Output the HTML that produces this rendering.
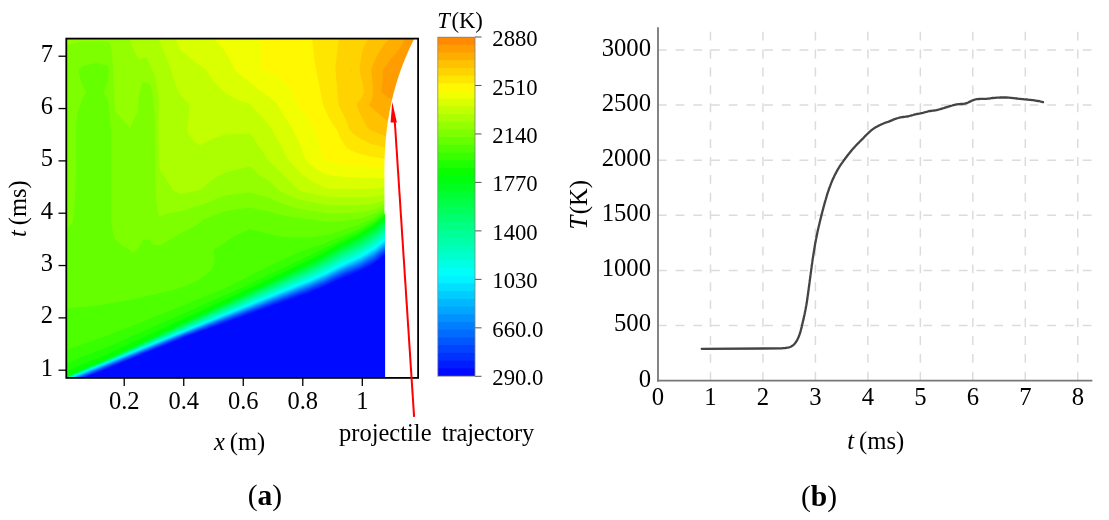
<!DOCTYPE html>
<html><head><meta charset="utf-8"><style>
html,body{margin:0;padding:0;background:#fff;}
body{width:1109px;height:520px;position:relative;overflow:hidden;}
svg{position:absolute;left:0;top:0;will-change:transform;}
text{font-family:"Liberation Serif",serif;fill:#000;}
.ta{font-size:24.5px;}
.tb{font-size:24.7px;}
.tc{font-size:22.7px;}
.cap{font-size:29.5px;}
.gh{stroke:#dcdcdc;stroke-width:1.5;stroke-dasharray:8.8 8.9;stroke-dashoffset:1;}
.gv{stroke:#dcdcdc;stroke-width:1.5;stroke-dasharray:8.9 9;}
.ax{stroke:#777;stroke-width:1.8;}
.cv{fill:none;stroke:#444;stroke-width:2.3;stroke-linejoin:round;stroke-linecap:round;}
.tk{stroke:#000;stroke-width:1.3;}
.ctk{stroke:#555;stroke-width:1;}
.fr{fill:none;stroke:#000;stroke-width:1.8;}
</style></head><body>
<svg width="1109" height="520" viewBox="0 0 1109 520">
<g shape-rendering="auto"><rect x="66" y="38" width="352" height="340" fill="#000aff"/>
<path fill="#001dff" fill-rule="evenodd" d="M66.12,38.12 66.12,377.88 84.62,377.62 183.62,337.38 309.12,292.38 325.88,285.62 340.62,278.62 358.62,271.62 373.62,263.62 384.88,255.12 417.88,255.12 417.88,38.12Z"/>
<path fill="#0031ff" fill-rule="evenodd" d="M66.12,38.12 66.12,377.88 82.38,377.88 183.12,336.88 309.62,290.88 324.38,284.88 340.12,277.38 358.38,270.12 373.88,261.88 384.88,253.38 417.88,253.38 417.88,38.12Z"/>
<path fill="#0044ff" fill-rule="evenodd" d="M66.12,38.12 66.12,377.88 80.88,377.88 182.88,336.38 309.12,289.88 326.62,282.62 341.12,275.62 360.62,267.62 373.88,260.38 384.88,251.88 417.88,251.88 417.88,38.12Z"/>
<path fill="#0057ff" fill-rule="evenodd" d="M66.12,38.12 66.12,377.88 80.12,377.62 183.38,335.62 307.62,289.38 324.62,282.38 340.62,274.62 359.62,266.88 374.12,258.88 384.62,250.62 417.88,250.62 417.88,38.12Z"/>
<path fill="#006bff" fill-rule="evenodd" d="M66.12,38.12 66.12,377.88 78.88,377.62 184.62,334.62 311.38,286.88 326.12,280.62 340.88,273.38 360.12,265.38 373.62,257.88 384.88,249.12 417.88,249.12 417.88,38.12Z"/>
<path fill="#007eff" fill-rule="evenodd" d="M66.12,38.12 66.12,377.88 77.62,377.62 184.62,334.12 311.38,285.88 324.38,280.38 340.12,272.62 359.38,264.62 374.12,256.38 384.88,247.88 417.88,247.88 417.88,38.12Z"/>
<path fill="#0092ff" fill-rule="evenodd" d="M66.12,38.12 66.12,377.88 76.38,377.62 184.62,333.62 310.38,285.38 324.38,279.38 341.12,271.12 359.12,263.62 373.88,255.38 384.88,246.62 417.88,246.62 417.88,38.12Z"/>
<path fill="#00a5ff" fill-rule="evenodd" d="M66.12,38.12 66.12,377.88 74.62,377.88 186.62,332.38 311.12,284.12 326.12,277.62 341.12,270.12 359.88,262.12 373.62,254.38 384.62,245.62 417.88,245.62 417.88,38.12Z"/>
<path fill="#00b8ff" fill-rule="evenodd" d="M66.12,38.12 66.12,377.88 74.12,377.62 188.62,331.12 309.62,283.88 324.62,277.38 341.12,269.12 359.38,261.38 373.88,253.12 384.88,244.38 417.88,244.38 417.88,38.12Z"/>
<path fill="#00ccff" fill-rule="evenodd" d="M66.12,38.12 66.12,377.88 72.38,377.88 190.62,329.88 309.38,283.12 324.88,276.38 340.62,268.38 360.62,259.62 374.12,251.88 384.62,243.38 417.88,243.38 417.88,38.12Z"/>
<path fill="#00dfff" fill-rule="evenodd" d="M66.12,38.12 66.12,377.88 71.38,377.88 178.88,334.12 309.12,282.38 325.12,275.38 341.88,266.88 360.62,258.62 374.38,250.62 384.88,242.12 417.88,242.12 417.88,38.12Z"/>
<path fill="#00f3ff" fill-rule="evenodd" d="M66.12,38.12 66.12,377.88 70.88,377.62 187.12,330.38 311.88,280.38 325.38,274.38 340.38,266.62 358.88,258.62 374.38,249.62 384.88,241.12 417.88,241.12 417.88,38.12Z"/>
<path fill="#00fff8" fill-rule="evenodd" d="M66.12,38.12 66.12,377.88 69.88,377.62 310.62,280.12 324.62,273.88 341.12,265.38 359.38,257.38 374.38,248.62 384.88,240.12 417.88,240.12 417.88,38.12Z"/>
<path fill="#00ffe4" fill-rule="evenodd" d="M66.12,38.12 66.12,377.88 69.38,377.62 309.88,279.12 322.62,273.38 340.62,264.12 360.12,255.38 374.12,247.12 384.88,238.38 417.88,238.38 417.88,38.12Z"/>
<path fill="#00ffd0" fill-rule="evenodd" d="M66.12,38.12 66.12,377.88 68.88,377.62 310.62,277.38 324.88,270.88 342.12,261.88 359.38,254.12 374.12,245.38 384.88,236.62 417.88,236.62 417.88,38.12Z"/>
<path fill="#00ffbd" fill-rule="evenodd" d="M66.12,38.12 66.12,377.88 68.38,377.62 105.38,362.38 311.38,275.62 324.38,269.62 340.88,260.88 359.12,252.62 374.12,243.62 384.62,234.88 417.88,234.88 417.88,38.12Z"/>
<path fill="#00ffa9" fill-rule="evenodd" d="M66.12,38.12 66.12,377.88 67.88,377.62 101.12,363.88 312.12,273.88 326.38,267.12 343.38,258.12 360.12,250.38 374.12,241.88 384.88,232.88 417.88,232.88 417.88,38.12Z"/>
<path fill="#00ff96" fill-rule="evenodd" d="M66.12,38.12 66.12,377.88 99.88,364.12 309.62,273.62 326.88,265.38 341.62,257.38 359.38,249.12 374.12,240.12 384.88,231.12 417.88,231.12 417.88,38.12Z"/>
<path fill="#00ff82" fill-rule="evenodd" d="M66.12,38.12 66.12,377.88 90.62,367.38 99.88,363.88 309.88,272.12 326.88,263.88 345.12,254.12 359.12,247.62 374.12,238.38 384.88,229.38 417.88,229.38 417.88,38.12Z"/>
<path fill="#00ff6e" fill-rule="evenodd" d="M66.12,38.12 66.12,377.62 100.38,363.38 311.12,270.12 326.88,262.38 338.88,255.62 359.62,245.62 373.88,236.88 384.88,227.62 417.88,227.62 417.88,38.12Z"/>
<path fill="#00ff5b" fill-rule="evenodd" d="M66.12,38.12 66.12,377.38 100.88,362.88 308.62,269.88 327.38,260.62 337.88,254.62 359.38,244.12 373.88,235.12 384.62,225.88 417.88,225.88 417.88,38.12Z"/>
<path fill="#00ff47" fill-rule="evenodd" d="M66.12,38.12 66.12,377.38 91.12,366.38 103.62,361.38 308.88,268.38 325.12,260.38 339.12,252.38 359.12,242.62 373.88,233.38 384.88,223.88 417.88,223.88 417.88,38.12Z"/>
<path fill="#00ff33" fill-rule="evenodd" d="M66.12,38.12 66.12,377.12 91.12,366.12 101.88,361.88 309.62,266.62 325.12,258.88 338.12,251.38 359.62,240.62 373.88,231.62 384.88,222.12 417.88,222.12 417.88,38.12Z"/>
<path fill="#00ff20" fill-rule="evenodd" d="M66.12,38.12 66.12,376.88 90.38,366.12 102.38,361.38 306.12,266.88 325.62,257.12 339.38,249.12 359.38,239.12 373.88,229.88 384.88,220.38 417.88,220.38 417.88,38.12Z"/>
<path fill="#00ff0c" fill-rule="evenodd" d="M66.12,38.12 66.12,376.62 90.38,365.88 103.38,360.62 306.38,265.38 325.62,255.62 340.12,247.12 359.12,237.62 373.88,228.12 384.88,218.62 417.88,218.62 417.88,38.12Z"/>
<path fill="#09ff00" fill-rule="evenodd" d="M66.12,38.12 66.12,376.62 90.38,365.62 100.12,361.88 314.12,260.12 325.62,254.12 339.62,245.88 359.62,235.62 373.88,226.38 384.88,216.62 417.88,216.62 417.88,38.12Z"/>
<path fill="#20ff00" fill-rule="evenodd" d="M66.12,38.12 66.12,371.62 91.12,360.62 101.12,356.88 245.38,290.12 305.62,261.62 324.62,252.12 339.12,243.88 359.88,233.62 374.38,224.38 384.88,215.38 417.88,215.38 417.88,38.12Z"/>
<path fill="#37ff00" fill-rule="evenodd" d="M66.12,38.12 66.12,363.62 90.38,353.62 103.88,348.62 238.88,288.88 276.38,270.88 309.62,255.62 342.38,239.38 359.38,231.62 374.12,222.62 384.88,213.88 417.88,213.88 417.88,38.12Z"/>
<path fill="#4eff00" fill-rule="evenodd" d="M66.12,38.12 66.12,349.88 101.88,337.62 148.38,319.38 221.88,289.62 238.38,281.62 259.88,270.38 300.12,251.38 324.62,243.38 358.88,228.88 373.88,220.38 384.38,212.38 417.88,212.38 417.88,38.12Z"/>
<path fill="#66ff00" fill-rule="evenodd" d="M66.12,38.12 66.12,308.38 101.12,304.88 129.88,299.88 171.12,290.38 179.38,287.88 189.88,283.88 200.12,278.88 204.38,276.12 208.12,273.12 211.88,268.88 213.62,265.62 214.62,261.88 214.62,256.62 213.38,250.88 213.62,249.62 217.88,247.38 228.88,239.62 237.88,234.62 249.88,228.88 266.12,233.62 283.38,236.88 292.88,237.62 307.12,237.62 313.62,237.12 329.12,234.38 358.12,224.88 374.12,217.38 384.38,210.38 417.88,210.38 417.88,38.12Z"/>
<path fill="#7dff00" fill-rule="evenodd" d="M66.12,38.12 66.12,229.88 72.12,222.38 72.88,220.12 73.88,211.38 75.38,191.88 76.12,163.12 76.12,126.88 77.38,114.12 78.62,108.62 80.38,104.88 81.88,99.38 86.12,92.12 81.62,83.88 79.88,77.38 78.62,69.88 82.62,66.12 96.12,63.12 98.62,63.38 107.38,66.12 108.12,66.62 108.62,68.62 108.12,81.12 105.12,87.12 103.62,92.38 108.12,101.12 111.12,129.88 111.12,221.88 113.12,233.62 115.12,239.38 118.62,242.12 121.88,245.62 128.88,249.38 132.88,252.88 138.88,247.62 141.12,243.62 141.88,240.88 142.88,239.88 149.88,239.62 151.88,243.38 153.88,245.12 160.12,245.62 180.12,233.62 187.62,230.12 194.12,226.38 199.38,222.88 203.12,219.62 225.12,210.88 250.38,207.62 258.38,209.62 269.62,211.62 276.62,213.88 289.12,216.62 302.38,218.62 315.88,219.88 324.38,221.62 333.12,221.88 353.62,219.38 361.88,217.88 373.62,214.12 384.12,207.88 417.88,207.88 417.88,38.12Z"/>
<path fill="#94ff00" fill-rule="evenodd" d="M66.12,38.12 66.12,45.38 74.38,42.88 81.62,41.62 103.38,41.38 107.88,41.62 109.62,43.12 111.12,47.38 112.38,56.88 113.12,70.62 113.38,89.38 115.12,111.62 129.88,127.88 137.88,111.62 138.12,104.62 139.38,92.88 141.62,83.62 142.12,82.88 146.12,81.88 150.12,84.12 152.12,91.62 154.12,109.38 154.88,127.88 154.88,165.38 155.88,197.62 157.38,210.12 158.62,214.38 159.88,216.88 163.38,214.88 168.38,213.12 179.88,211.38 191.88,207.62 200.12,205.62 224.62,195.62 248.12,192.38 250.62,192.38 257.38,194.62 269.88,197.88 275.38,200.88 283.12,204.12 295.62,208.12 308.38,210.62 329.38,213.38 351.12,213.12 362.12,212.12 374.38,209.38 384.12,204.62 417.88,204.62 417.88,38.12Z"/>
<path fill="#abff00" fill-rule="evenodd" d="M129.62,38.12 131.88,45.88 135.38,53.62 139.88,59.38 144.12,57.38 146.38,57.38 149.38,63.38 151.62,69.62 153.62,72.62 155.38,77.38 157.62,88.88 158.88,102.38 158.38,130.88 159.12,161.38 160.12,170.88 165.38,178.12 172.62,189.62 176.12,192.12 179.62,193.88 200.12,190.12 211.12,180.88 217.38,176.62 224.88,172.38 249.88,166.38 258.62,174.38 263.88,178.12 269.62,181.38 278.88,190.38 292.88,197.38 300.38,200.12 329.88,205.62 356.38,205.62 372.62,204.12 376.88,203.12 384.12,200.38 417.88,200.38 417.88,38.12Z"/>
<path fill="#c2ff00" fill-rule="evenodd" d="M157.38,38.12 160.12,42.38 164.12,53.12 171.12,69.62 173.38,78.62 177.12,88.88 179.88,94.38 189.62,104.88 187.12,130.62 189.62,135.62 191.88,138.88 196.12,143.12 200.12,145.62 205.12,142.38 211.12,139.38 224.62,134.38 250.12,133.38 260.88,148.88 267.62,159.88 270.38,162.12 298.12,189.88 300.12,190.88 329.88,197.62 367.62,197.38 376.12,196.62 383.88,194.88 417.88,194.88 417.88,38.12Z"/>
<path fill="#d9ff00" fill-rule="evenodd" d="M175.38,38.12 180.12,49.38 197.12,63.38 205.62,69.62 209.38,75.62 214.62,82.62 223.38,91.62 226.62,94.12 235.88,99.12 241.38,101.38 249.88,103.88 251.62,105.38 271.12,127.88 288.38,159.88 301.62,174.12 310.88,180.62 321.12,185.88 329.62,189.12 361.62,189.12 375.38,188.62 383.12,187.62 417.88,187.62 417.88,38.12Z"/>
<path fill="#f1ff00" fill-rule="evenodd" d="M213.12,38.12 219.12,43.88 224.88,51.12 229.62,58.88 234.62,69.88 243.12,77.62 249.62,81.88 261.12,91.38 269.88,97.62 277.38,104.62 285.62,118.62 292.88,129.62 300.12,144.88 305.62,159.88 310.38,164.38 316.12,168.88 323.88,173.62 329.88,175.38 351.88,177.38 373.38,178.12 417.88,178.12 417.88,38.12Z"/>
<path fill="#fff800" fill-rule="evenodd" d="M260.12,38.12 261.38,51.38 262.12,69.88 270.62,73.12 277.62,76.62 282.62,80.38 288.62,86.88 293.38,94.88 297.12,105.12 304.38,112.38 307.62,116.88 311.12,123.12 316.12,134.38 319.12,142.88 323.12,159.88 342.12,163.88 357.88,165.88 381.62,167.62 417.88,167.62 417.88,38.12Z"/>
<path fill="#ffe600" fill-rule="evenodd" d="M312.12,38.12 314.38,60.62 323.12,105.12 328.88,117.38 332.38,123.38 337.12,129.88 339.62,136.88 344.62,145.12 347.12,147.88 350.62,150.62 360.38,154.12 370.88,156.62 383.62,158.62 417.88,158.62 417.88,38.12Z"/>
<path fill="#ffd300" fill-rule="evenodd" d="M339.12,38.12 337.12,51.12 335.38,69.38 338.62,105.12 345.38,118.62 349.62,130.12 353.62,133.88 361.88,139.38 370.12,143.38 384.38,147.38 417.88,147.38 417.88,38.12Z"/>
<path fill="#ffc100" fill-rule="evenodd" d="M351.12,69.12 351.12,73.62 351.88,70.38ZM368.62,38.12 365.12,43.88 362.88,50.12 361.12,57.62 359.62,67.88 359.62,70.88 362.12,80.38 364.12,92.38 360.62,99.62 358.12,101.62 356.62,104.88 358.88,111.12 363.38,120.62 366.12,125.38 369.88,130.12 384.62,136.12 417.88,136.12 417.88,38.12Z"/>
<path fill="#ffae00" fill-rule="evenodd" d="M390.62,38.12 384.38,44.62 379.62,51.12 375.12,59.62 371.38,69.38 372.88,87.88 372.88,94.12 371.88,99.62 370.38,103.12 369.12,104.62 369.12,105.38 384.88,119.12 387.62,120.12 417.88,120.12 417.88,38.12Z"/>
<path fill="#ff9c00" fill-rule="evenodd" d="M417.88,38.12 404.88,38.12 403.62,41.62 400.38,47.38 395.38,54.12 389.88,60.12 382.88,70.12 382.62,79.12 381.12,92.12 389.38,98.62 391.62,99.38 417.88,99.38Z"/><path fill="#fff" d="M415.61,36.00 L415.10,37.00 L414.59,38.00 L414.08,39.00 L413.58,40.00 L413.09,41.00 L412.60,42.00 L412.11,43.00 L411.63,44.00 L411.16,45.00 L410.69,46.00 L410.22,47.00 L409.76,48.00 L409.30,49.00 L408.85,50.00 L408.40,51.00 L407.96,52.00 L407.52,53.00 L407.09,54.00 L406.66,55.00 L406.23,56.00 L405.81,57.00 L405.40,58.00 L404.99,59.00 L404.58,60.00 L404.18,61.00 L403.78,62.00 L403.39,63.00 L403.00,64.00 L402.62,65.00 L402.24,66.00 L401.87,67.00 L401.50,68.00 L401.13,69.00 L400.77,70.00 L400.42,71.00 L400.06,72.00 L399.72,73.00 L399.37,74.00 L399.03,75.00 L398.70,76.00 L398.37,77.00 L398.04,78.00 L397.72,79.00 L397.41,80.00 L397.09,81.00 L396.78,82.00 L396.48,83.00 L396.18,84.00 L395.89,85.00 L395.59,86.00 L395.31,87.00 L395.02,88.00 L394.74,89.00 L394.47,90.00 L394.20,91.00 L393.93,92.00 L393.67,93.00 L393.41,94.00 L393.16,95.00 L392.91,96.00 L392.66,97.00 L392.42,98.00 L392.18,99.00 L391.95,100.00 L391.72,101.00 L391.50,102.00 L391.27,103.00 L391.06,104.00 L390.84,105.00 L390.63,106.00 L390.43,107.00 L390.23,108.00 L390.03,109.00 L389.83,110.00 L389.64,111.00 L389.46,112.00 L389.27,113.00 L389.09,114.00 L388.92,115.00 L388.75,116.00 L388.58,117.00 L388.42,118.00 L388.26,119.00 L388.10,120.00 L387.95,121.00 L387.80,122.00 L387.65,123.00 L387.51,124.00 L387.37,125.00 L387.24,126.00 L387.11,127.00 L386.98,128.00 L386.85,129.00 L386.73,130.00 L386.61,131.00 L386.50,132.00 L386.39,133.00 L386.28,134.00 L386.18,135.00 L386.08,136.00 L385.98,137.00 L385.89,138.00 L385.80,139.00 L385.71,140.00 L385.62,141.00 L385.54,142.00 L385.46,143.00 L385.39,144.00 L385.32,145.00 L385.25,146.00 L385.18,147.00 L385.12,148.00 L385.06,149.00 L385.00,150.00 L384.95,151.00 L384.90,152.00 L384.85,153.00 L384.80,154.00 L384.76,155.00 L384.72,156.00 L384.68,157.00 L384.65,158.00 L384.62,159.00 L384.59,160.00 L384.56,161.00 L384.53,162.00 L384.51,163.00 L384.49,164.00 L384.47,165.00 L384.46,166.00 L384.44,167.00 L384.43,168.00 L384.42,169.00 L384.41,170.00 L384.41,171.00 L384.40,172.00 L384.40,173.00 L384.40,174.00 L384.40,175.00 L384.40,176.00 L384.40,177.00 L384.40,178.00 L384.40,179.00 L384.40,180.00 L384.40,181.00 L384.40,182.00 L384.40,183.00 L384.40,184.00 L384.40,185.00 L384.40,186.00 L384.40,187.00 L384.40,188.00 L384.40,189.00 L384.40,190.00 L384.40,191.00 L384.40,192.00 L384.40,193.00 L384.40,194.00 L384.40,195.00 L384.40,196.00 L384.40,197.00 L384.40,198.00 L384.40,199.00 L384.40,200.00 L384.40,201.00 L384.40,202.00 L384.40,203.00 L384.40,204.00 L384.40,205.00 L384.40,206.00 L384.40,207.00 L384.40,208.00 L384.40,209.00 L384.40,210.00 L384.40,211.00 L384.40,212.00 L384.40,213.00 L384.40,213.70 L385.10,213.70 L385.10,380.00 L420,380 L420,36 Z"/><rect x="438" y="37.000" width="37" height="339.000" fill="#ff8900"/><rect x="438" y="44.705" width="37" height="331.295" fill="#ff9c00"/><rect x="438" y="52.409" width="37" height="323.591" fill="#ffae00"/><rect x="438" y="60.114" width="37" height="315.886" fill="#ffc100"/><rect x="438" y="67.818" width="37" height="308.182" fill="#ffd300"/><rect x="438" y="75.523" width="37" height="300.477" fill="#ffe600"/><rect x="438" y="83.227" width="37" height="292.773" fill="#fff800"/><rect x="438" y="90.932" width="37" height="285.068" fill="#f1ff00"/><rect x="438" y="98.636" width="37" height="277.364" fill="#d9ff00"/><rect x="438" y="106.341" width="37" height="269.659" fill="#c2ff00"/><rect x="438" y="114.045" width="37" height="261.955" fill="#abff00"/><rect x="438" y="121.750" width="37" height="254.250" fill="#94ff00"/><rect x="438" y="129.455" width="37" height="246.545" fill="#7dff00"/><rect x="438" y="137.159" width="37" height="238.841" fill="#66ff00"/><rect x="438" y="144.864" width="37" height="231.136" fill="#4eff00"/><rect x="438" y="152.568" width="37" height="223.432" fill="#37ff00"/><rect x="438" y="160.273" width="37" height="215.727" fill="#20ff00"/><rect x="438" y="167.977" width="37" height="208.023" fill="#09ff00"/><rect x="438" y="175.682" width="37" height="200.318" fill="#00ff0c"/><rect x="438" y="183.386" width="37" height="192.614" fill="#00ff20"/><rect x="438" y="191.091" width="37" height="184.909" fill="#00ff33"/><rect x="438" y="198.795" width="37" height="177.205" fill="#00ff47"/><rect x="438" y="206.500" width="37" height="169.500" fill="#00ff5b"/><rect x="438" y="214.205" width="37" height="161.795" fill="#00ff6e"/><rect x="438" y="221.909" width="37" height="154.091" fill="#00ff82"/><rect x="438" y="229.614" width="37" height="146.386" fill="#00ff96"/><rect x="438" y="237.318" width="37" height="138.682" fill="#00ffa9"/><rect x="438" y="245.023" width="37" height="130.977" fill="#00ffbd"/><rect x="438" y="252.727" width="37" height="123.273" fill="#00ffd0"/><rect x="438" y="260.432" width="37" height="115.568" fill="#00ffe4"/><rect x="438" y="268.136" width="37" height="107.864" fill="#00fff8"/><rect x="438" y="275.841" width="37" height="100.159" fill="#00f3ff"/><rect x="438" y="283.545" width="37" height="92.455" fill="#00dfff"/><rect x="438" y="291.250" width="37" height="84.750" fill="#00ccff"/><rect x="438" y="298.955" width="37" height="77.045" fill="#00b8ff"/><rect x="438" y="306.659" width="37" height="69.341" fill="#00a5ff"/><rect x="438" y="314.364" width="37" height="61.636" fill="#0092ff"/><rect x="438" y="322.068" width="37" height="53.932" fill="#007eff"/><rect x="438" y="329.773" width="37" height="46.227" fill="#006bff"/><rect x="438" y="337.477" width="37" height="38.523" fill="#0057ff"/><rect x="438" y="345.182" width="37" height="30.818" fill="#0044ff"/><rect x="438" y="352.886" width="37" height="23.114" fill="#0031ff"/><rect x="438" y="360.591" width="37" height="15.409" fill="#001dff"/><rect x="438" y="368.295" width="37" height="7.705" fill="#000aff"/></g>
<line x1="658.9" y1="325.57" x2="1092.4" y2="325.57" class="gh"/>
<line x1="658.9" y1="270.44" x2="1092.4" y2="270.44" class="gh"/>
<line x1="658.9" y1="215.31" x2="1092.4" y2="215.31" class="gh"/>
<line x1="658.9" y1="160.18" x2="1092.4" y2="160.18" class="gh"/>
<line x1="658.9" y1="105.05" x2="1092.4" y2="105.05" class="gh"/>
<line x1="658.9" y1="49.92" x2="1092.4" y2="49.92" class="gh"/>
<line x1="710.47" y1="380.7" x2="710.47" y2="27.2" class="gv"/>
<line x1="762.94" y1="380.7" x2="762.94" y2="27.2" class="gv"/>
<line x1="815.41" y1="380.7" x2="815.41" y2="27.2" class="gv"/>
<line x1="867.88" y1="380.7" x2="867.88" y2="27.2" class="gv"/>
<line x1="920.35" y1="380.7" x2="920.35" y2="27.2" class="gv"/>
<line x1="972.82" y1="380.7" x2="972.82" y2="27.2" class="gv"/>
<line x1="1025.29" y1="380.7" x2="1025.29" y2="27.2" class="gv"/>
<line x1="1077.76" y1="380.7" x2="1077.76" y2="27.2" class="gv"/>
<line x1="658.0" y1="27.2" x2="658.0" y2="381.4" class="ax"/>
<line x1="657.1" y1="380.7" x2="1092.4" y2="380.7" class="ax"/>
<path d="M701.7,348.8 L782,348.4 L782.5,348.2 L783.8,348.1 L785.1,348.0 L786.3,347.8 L787.6,347.6 L788.9,347.4 L790.1,347.0 L791.2,346.5 L792.3,345.8 L793.3,345.1 L794.2,344.2 L795.0,343.3 L795.8,342.3 L796.5,341.2 L797.1,340.1 L797.7,339.0 L798.2,337.8 L798.7,336.7 L799.2,335.5 L799.6,334.3 L800.0,333.1 L800.4,331.9 L800.7,330.7 L801.0,329.5 L801.4,328.2 L801.7,327.0 L801.9,325.8 L802.2,324.5 L802.5,323.3 L802.8,322.1 L803.1,320.8 L803.4,319.6 L803.7,318.4 L803.9,317.1 L804.2,315.9 L804.5,314.7 L804.7,313.4 L805.0,312.2 L805.2,311.0 L805.5,309.7 L805.7,308.5 L805.9,307.3 L806.2,306.0 L806.4,304.8 L806.6,303.5 L806.8,302.3 L807.0,301.0 L807.2,299.8 L807.4,298.5 L807.5,297.3 L807.7,296.0 L807.9,294.8 L808.1,293.5 L808.2,292.3 L808.4,291.0 L808.6,289.8 L808.7,288.5 L808.9,287.3 L809.1,286.0 L809.2,284.8 L809.4,283.5 L809.6,282.2 L809.7,281.0 L809.9,279.7 L810.1,278.5 L810.2,277.2 L810.4,276.0 L810.6,274.7 L810.7,273.5 L810.9,272.2 L811.1,271.0 L811.2,269.7 L811.4,268.5 L811.6,267.2 L811.7,266.0 L811.9,264.7 L812.1,263.5 L812.3,262.2 L812.4,261.0 L812.6,259.7 L812.8,258.5 L813.0,257.2 L813.2,256.0 L813.4,254.7 L813.6,253.5 L813.8,252.2 L814.0,251.0 L814.2,249.7 L814.4,248.5 L814.6,247.2 L814.8,246.0 L815.0,244.7 L815.2,243.5 L815.5,242.3 L815.7,241.0 L815.9,239.8 L816.2,238.5 L816.4,237.3 L816.7,236.1 L816.9,234.8 L817.2,233.6 L817.4,232.4 L817.7,231.1 L818.0,229.9 L818.2,228.7 L818.5,227.4 L818.8,226.2 L819.1,225.0 L819.4,223.7 L819.7,222.5 L820.0,221.3 L820.3,220.0 L820.6,218.8 L820.9,217.6 L821.2,216.4 L821.5,215.1 L821.8,213.9 L822.1,212.7 L822.4,211.5 L822.8,210.2 L823.1,209.0 L823.4,207.8 L823.7,206.6 L824.1,205.4 L824.4,204.1 L824.7,202.9 L825.1,201.7 L825.4,200.5 L825.8,199.3 L826.1,198.1 L826.5,196.8 L826.8,195.6 L827.2,194.4 L827.6,193.2 L828.0,192.0 L828.4,190.8 L828.8,189.6 L829.2,188.4 L829.6,187.3 L830.1,186.1 L830.5,184.9 L831.0,183.7 L831.4,182.5 L831.9,181.4 L832.4,180.2 L832.9,179.0 L833.5,177.9 L834.0,176.8 L834.5,175.6 L835.1,174.5 L835.7,173.4 L836.3,172.2 L836.9,171.1 L837.5,170.0 L838.1,168.9 L838.8,167.9 L839.4,166.8 L840.1,165.7 L840.8,164.7 L841.5,163.6 L842.3,162.6 L843.0,161.6 L843.7,160.5 L844.5,159.5 L845.2,158.5 L846.0,157.5 L846.7,156.5 L847.5,155.5 L848.3,154.5 L849.1,153.5 L849.9,152.5 L850.7,151.5 L851.5,150.5 L852.3,149.6 L853.1,148.6 L854.0,147.7 L854.8,146.7 L855.7,145.8 L856.5,144.9 L857.4,144.0 L858.3,143.1 L859.2,142.2 L860.1,141.3 L861.0,140.4 L861.9,139.5 L862.8,138.6 L863.7,137.7 L864.5,136.8 L865.4,135.9 L866.3,135.0 L867.2,134.2 L868.1,133.3 L869.0,132.4 L870.0,131.5 L870.9,130.7 L871.9,129.9 L872.9,129.1 L873.9,128.4 L875.0,127.7 L876.1,127.1 L877.2,126.5 L878.3,125.9 L879.5,125.3 L880.6,124.8 L881.7,124.2 L882.9,123.7 L884.0,123.2 L885.2,122.7 L886.4,122.4 L887.6,122.0 L888.8,121.6 L889.9,121.1 L891.1,120.6 L892.3,120.1 L893.4,119.6 L894.6,119.2 L895.8,118.7 L897.0,118.3 L898.2,118.0 L899.4,117.6 L900.7,117.4 L901.9,117.2 L903.2,117.0 L904.4,116.8 L905.7,116.7 L906.9,116.5 L908.2,116.3 L909.4,116.0 L910.6,115.7 L911.8,115.3 L913.0,115.0 L914.2,114.6 L915.4,114.3 L916.7,114.0 L917.9,113.8 L919.2,113.6 L920.4,113.4 L921.7,113.1 L922.9,112.9 L924.1,112.5 L925.3,112.2 L926.5,111.9 L927.8,111.5 L929.0,111.2 L930.2,111.0 L931.5,110.8 L932.7,110.6 L934.0,110.5 L935.2,110.3 L936.5,110.1 L937.7,109.8 L938.9,109.5 L940.1,109.2 L941.3,108.8 L942.5,108.4 L943.8,108.1 L945.0,107.7 L946.2,107.3 L947.4,106.9 L948.6,106.6 L949.8,106.2 L951.0,105.8 L952.2,105.5 L953.4,105.1 L954.7,104.8 L955.9,104.5 L957.1,104.3 L958.4,104.2 L959.7,104.1 L960.9,104.0 L962.2,104.0 L963.4,103.9 L964.7,103.7 L965.9,103.3 L967.1,102.9 L968.2,102.5 L969.4,101.9 L970.5,101.4 L971.7,100.8 L972.8,100.3 L974.0,99.9 L975.2,99.5 L976.5,99.2 L977.7,99.1 L979.0,99.0 L980.2,98.9 L981.5,98.9 L982.8,98.9 L984.0,98.8 L985.3,98.8 L986.6,98.8 L987.8,98.7 L989.1,98.6 L990.3,98.4 L991.6,98.2 L992.8,98.0 L994.1,97.9 L995.3,97.8 L996.6,97.7 L997.9,97.6 L999.1,97.6 L1000.4,97.5 L1001.7,97.5 L1002.9,97.5 L1004.2,97.5 L1005.4,97.5 L1006.7,97.5 L1008.0,97.6 L1009.2,97.7 L1010.5,97.8 L1011.7,97.9 L1013.0,98.1 L1014.2,98.2 L1015.5,98.4 L1016.7,98.5 L1018.0,98.7 L1019.3,98.8 L1020.5,98.9 L1021.8,99.1 L1023.0,99.2 L1024.3,99.3 L1025.5,99.4 L1026.8,99.5 L1028.1,99.7 L1029.3,99.8 L1030.6,99.9 L1031.8,100.1 L1033.1,100.2 L1034.3,100.4 L1035.6,100.6 L1036.8,100.8 L1038.1,101.0 L1039.3,101.2 L1040.5,101.5 L1041.8,101.8 L1043.0,102.1" class="cv"/>
<text x="651" y="386.5" class="tb" text-anchor="end">0</text>
<text x="651" y="331.4" class="tb" text-anchor="end">500</text>
<text x="651" y="276.2" class="tb" text-anchor="end">1000</text>
<text x="651" y="221.1" class="tb" text-anchor="end">1500</text>
<text x="651" y="166.0" class="tb" text-anchor="end">2000</text>
<text x="651" y="110.8" class="tb" text-anchor="end">2500</text>
<text x="651" y="55.7" class="tb" text-anchor="end">3000</text>
<text x="658.0" y="405.2" class="tb" text-anchor="middle">0</text>
<text x="710.5" y="405.2" class="tb" text-anchor="middle">1</text>
<text x="762.9" y="405.2" class="tb" text-anchor="middle">2</text>
<text x="815.4" y="405.2" class="tb" text-anchor="middle">3</text>
<text x="867.9" y="405.2" class="tb" text-anchor="middle">4</text>
<text x="920.4" y="405.2" class="tb" text-anchor="middle">5</text>
<text x="972.8" y="405.2" class="tb" text-anchor="middle">6</text>
<text x="1025.3" y="405.2" class="tb" text-anchor="middle">7</text>
<text x="1077.8" y="405.2" class="tb" text-anchor="middle">8</text>
<text x="875.7" y="449" class="tb" text-anchor="middle"><tspan font-style="italic">t</tspan> (ms)</text>
<text transform="translate(586.7,204.7) rotate(-90)" class="tb" text-anchor="middle"><tspan font-style="italic">T</tspan><tspan dx="1.5">(K)</tspan></text>
<text x="819" y="505.6" class="cap" text-anchor="middle">(<tspan font-weight="bold">b</tspan>)</text>
<line x1="58.5" y1="370.20" x2="66" y2="370.20" class="tk"/>
<text x="53" y="375.7" class="ta" text-anchor="end">1</text>
<line x1="58.5" y1="317.87" x2="66" y2="317.87" class="tk"/>
<text x="53" y="323.4" class="ta" text-anchor="end">2</text>
<line x1="58.5" y1="265.54" x2="66" y2="265.54" class="tk"/>
<text x="53" y="271.0" class="ta" text-anchor="end">3</text>
<line x1="58.5" y1="213.21" x2="66" y2="213.21" class="tk"/>
<text x="53" y="218.7" class="ta" text-anchor="end">4</text>
<line x1="58.5" y1="160.88" x2="66" y2="160.88" class="tk"/>
<text x="53" y="166.4" class="ta" text-anchor="end">5</text>
<line x1="58.5" y1="108.55" x2="66" y2="108.55" class="tk"/>
<text x="53" y="114.1" class="ta" text-anchor="end">6</text>
<line x1="58.5" y1="56.22" x2="66" y2="56.22" class="tk"/>
<text x="53" y="61.7" class="ta" text-anchor="end">7</text>
<line x1="124.22" y1="378" x2="124.22" y2="386" class="tk"/>
<text x="124.22" y="408.8" class="ta" text-anchor="middle">0.2</text>
<line x1="183.74" y1="378" x2="183.74" y2="386" class="tk"/>
<text x="183.74" y="408.8" class="ta" text-anchor="middle">0.4</text>
<line x1="243.26" y1="378" x2="243.26" y2="386" class="tk"/>
<text x="243.26" y="408.8" class="ta" text-anchor="middle">0.6</text>
<line x1="302.78" y1="378" x2="302.78" y2="386" class="tk"/>
<text x="302.78" y="408.8" class="ta" text-anchor="middle">0.8</text>
<line x1="362.30" y1="378" x2="362.30" y2="386" class="tk"/>
<text x="362.30" y="408.8" class="ta" text-anchor="middle">1</text>
<rect x="66.3" y="38.6" width="351.8" height="339.3" class="fr"/>
<line x1="414.1" y1="416.9" x2="394.7" y2="120" stroke="#ff0000" stroke-width="2"/>
<polygon points="392.3,101.9 390.6,122.5 396.9,122.5" fill="#ff0000"/>
<line x1="475" y1="37.00" x2="481.5" y2="37.00" class="ctk"/>
<line x1="475" y1="85.47" x2="481.5" y2="85.47" class="ctk"/>
<line x1="475" y1="133.94" x2="481.5" y2="133.94" class="ctk"/>
<line x1="475" y1="182.41" x2="481.5" y2="182.41" class="ctk"/>
<line x1="475" y1="230.89" x2="481.5" y2="230.89" class="ctk"/>
<line x1="475" y1="279.36" x2="481.5" y2="279.36" class="ctk"/>
<line x1="475" y1="327.83" x2="481.5" y2="327.83" class="ctk"/>
<line x1="475" y1="376.30" x2="481.5" y2="376.30" class="ctk"/>
<text x="492.3" y="46.0" class="tc">2880</text>
<text x="492.3" y="94.5" class="tc">2510</text>
<text x="492.3" y="142.9" class="tc">2140</text>
<text x="492.3" y="191.4" class="tc">1770</text>
<text x="492.3" y="239.9" class="tc">1400</text>
<text x="492.3" y="288.4" class="tc">1030</text>
<text x="492.3" y="336.8" class="tc">660.0</text>
<text x="492.3" y="385.3" class="tc">290.0</text>
<rect x="437.8" y="37.2" width="37.2" height="339" fill="none" stroke="#808080" stroke-width="0.8"/>
<text x="437.3" y="28.3" class="tc"><tspan font-style="italic">T</tspan><tspan dx="1.5">(K)</tspan></text>
<text transform="translate(25.8,208.6) rotate(-90)" class="ta" text-anchor="middle"><tspan font-style="italic">t</tspan> (ms)</text>
<text x="239.6" y="449.8" class="ta" text-anchor="middle"><tspan font-style="italic">x</tspan> (m)</text>
<text x="339" y="440.6" class="ta">projectile</text>
<text x="441.8" y="440.6" class="ta" letter-spacing="-0.15">trajectory</text>
<text x="264.85" y="505.4" class="cap" text-anchor="middle">(<tspan font-weight="bold">a</tspan>)</text>
</svg>
</body></html>
